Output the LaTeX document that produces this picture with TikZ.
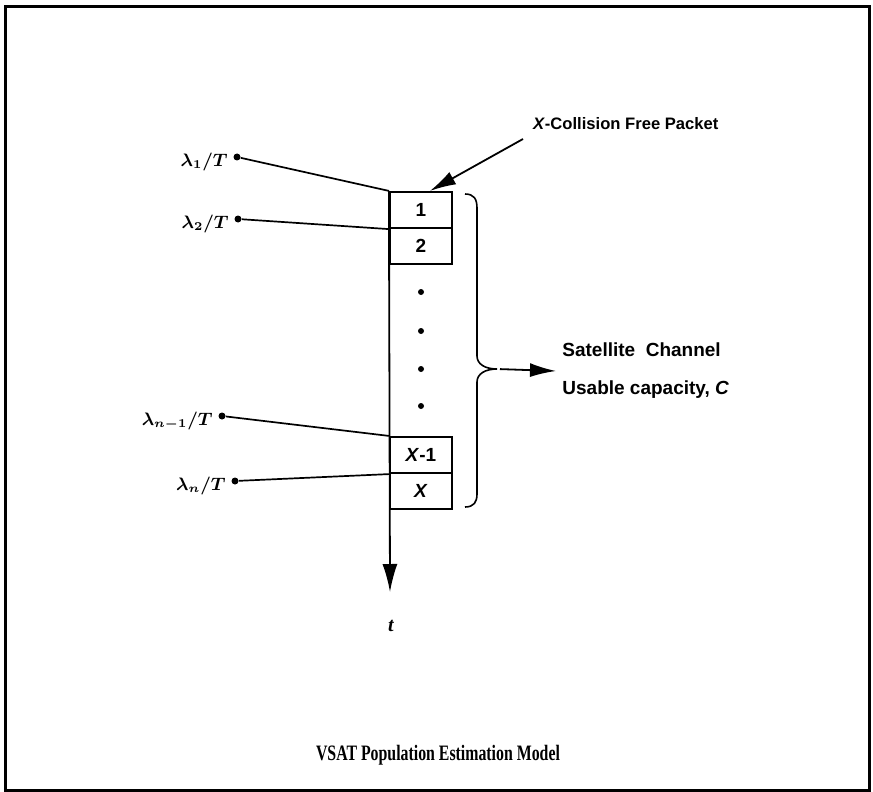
\documentclass[tikz,border=0pt]{standalone}
\usepackage{fontspec}
\setmainfont{Liberation Sans}
\newfontfamily\capfont{Liberation Serif}
\usepackage{bm}
\usetikzlibrary{arrows.meta,positioning}
\tikzset{
    slot/.style={rectangle, draw, line width=1.1pt, minimum width=31pt, minimum height=18pt, inner sep=0pt, font=\bfseries\fontsize{9.5}{11}\selectfont},
    pdot/.style={circle, fill, inner sep=0pt, minimum size=3pt},
    tapdot/.style={circle, fill, inner sep=0pt, minimum size=3.5pt},
    rate/.style={font=\fontsize{8.8}{10}\selectfont, inner sep=1pt},
    link/.style={line width=0.85pt},
    axis/.style={line width=0.9pt, -{Latex[length=14pt,width=7.5pt]}},
    bigarrow/.style={line width=0.9pt, -{Latex[length=13pt,width=7pt]}},
    txt/.style={font=\bfseries\fontsize{9.5}{19}\selectfont},
}

\begin{document}
\begin{tikzpicture}[x=0.5pt,y=-0.5pt]
    \useasboundingbox (0,0) rectangle (873,792);
    \draw[line width=1.5pt] (5.5,7) rectangle (869.5,790);
    % time slots on the channel
    \foreach \y/\name/\label in {210/s1/1, 246/s2/2, 455/s3/{\textit{X}-1}, 491/s4/{\textit{X}}} {
        \node[slot] (\name) at (421,\y) {\label};
    }
    \foreach \y in {292,331,369,406} {
        \node[pdot] (d\y) at (421,\y) {};
    }
    \coordinate (tend) at (390,592);
    \draw[axis] (s1.north west) -- (tend);
    \node[font=\capfont\bfseries\itshape\fontsize{10}{12}\selectfont] (t) at (391,626) {t};
    % arrival rates
    \foreach \x/\y/\name/\sub/\dest in {237/157/r1/1/s1.north west, 238/219/r2/2/s1.south west, 222/416/r3/{n-1}/s3.north west, 235/481/r4/n/s3.south west} {
        \node[tapdot] (\name) at (\x,\y) {};
        \node[rate, left=1.5pt of \name, yshift=-2.5pt] (\name l) {$\bm{\lambda_{\sub}/T}$};
        \draw[link] (\name) -- (\dest);
    }
    % collision free packet
    \node[txt, font=\bfseries\fontsize{8.3}{10}\selectfont, anchor=west] (coll) at (526,124) {\textit{X}-Collision Free Packet};
    \coordinate (cstart) at (523,139);
    \draw[bigarrow] (cstart) -- ([xshift=4.5pt]s1.north);
    % channel brace
    \coordinate (btip) at (497,369);
    \draw[line width=0.8pt] (465,194) .. controls (474,194) and (477,199) .. (477,208) -- (477,356)
        .. controls (477,364) and (485,369) .. (btip)
        .. controls (485,369) and (477,374) .. (477,382) -- (477,494)
        .. controls (477,502) and (474,507) .. (465,507);
    \node[txt, align=left, anchor=west, inner sep=3pt] (sat) at (556,371) {Satellite~~Channel\\Usable capacity, \textit{C}};
    \draw[bigarrow, shorten <=1.5pt] (btip) -- (sat.west);
    \node[font=\capfont\bfseries\fontsize{11}{13}\selectfont] (cap) at (438,755) {\scalebox{0.72}[1]{VSAT Population Estimation Model}};
\end{tikzpicture}
\end{document}
